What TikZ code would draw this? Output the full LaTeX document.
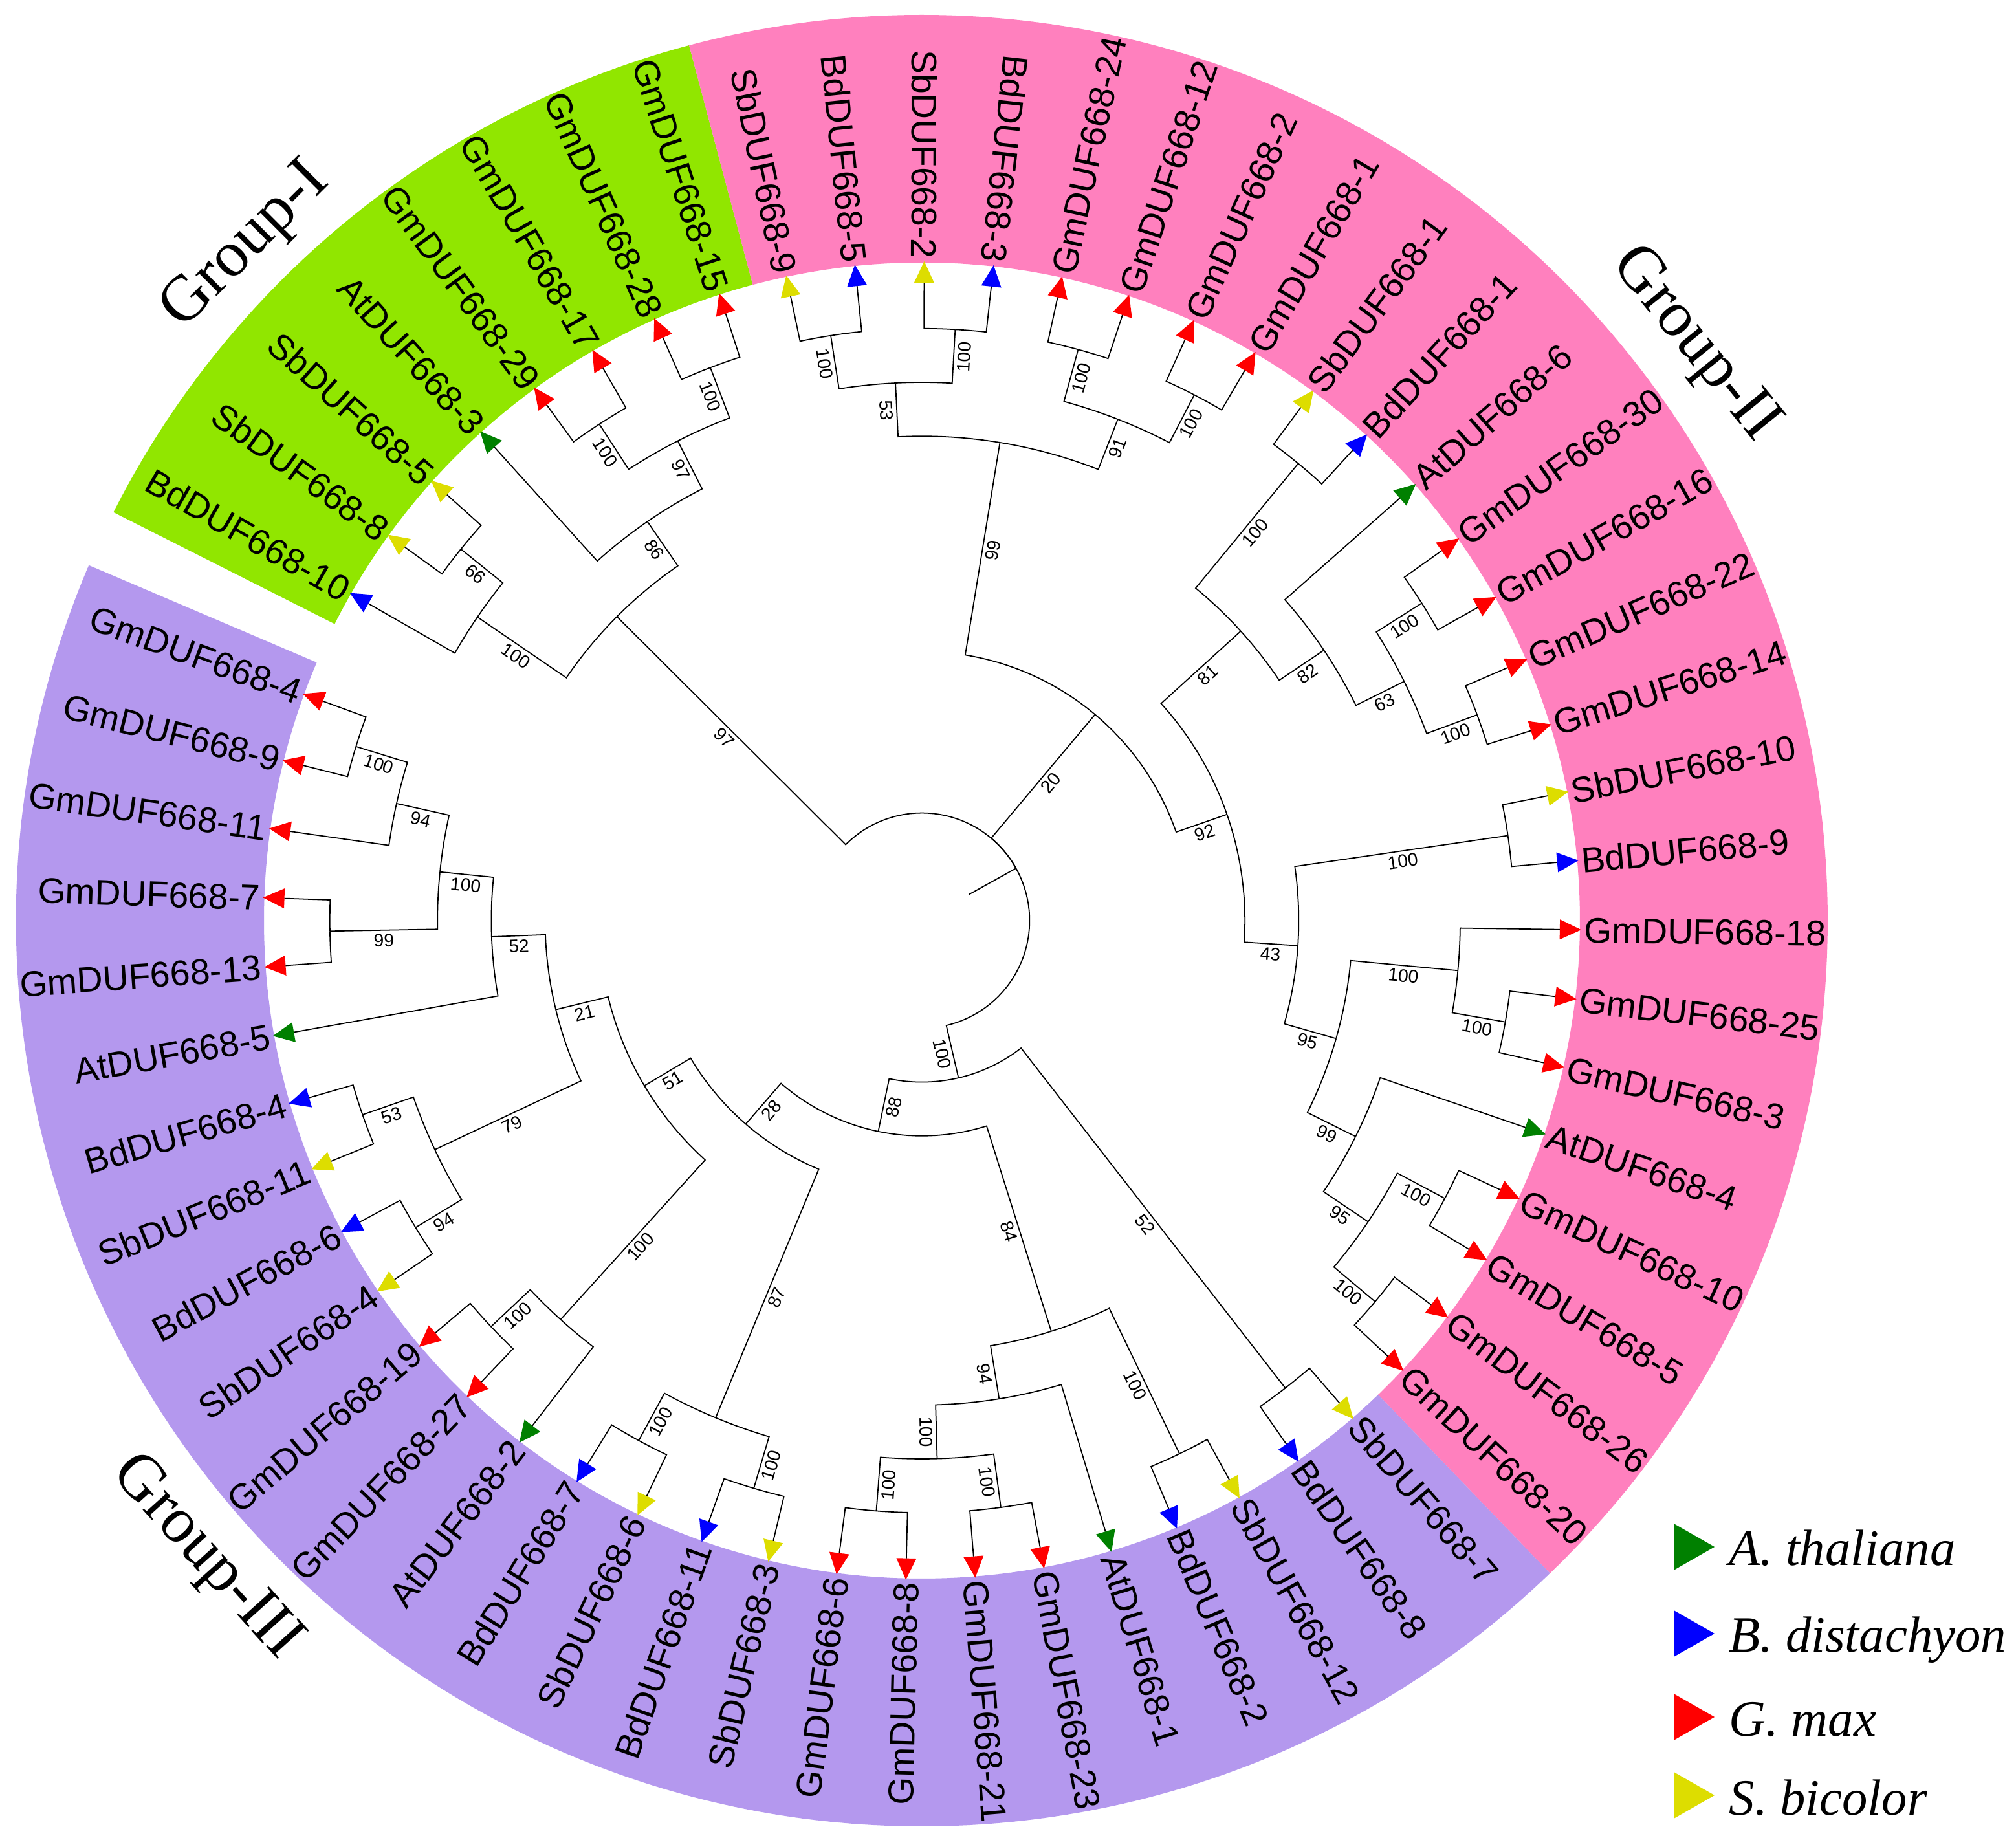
\documentclass[tikz,border=0pt]{standalone}
\usepackage{fontspec}
\setmainfont{Liberation Serif}
\setsansfont{Liberation Sans}
\definecolor{colAt}{RGB}{0,128,0}
\definecolor{colBd}{RGB}{0,0,255}
\definecolor{colGm}{RGB}{255,0,0}
\definecolor{colSb}{RGB}{221,221,0}
\definecolor{bandG}{RGB}{145,230,0}
\definecolor{bandP}{RGB}{255,128,190}
\definecolor{bandV}{RGB}{180,152,238}
\newcommand\lev{0.832}
\newcommand\tbranch[2]{%
  \edef\pA{\csname AN#1\endcsname}%
  \edef\pL{\csname LV#1\endcsname}%
  \edef\cA{\csname AN#2\endcsname}%
  \edef\cL{\csname LV#2\endcsname}%
  \pgfmathsetmacro\pR{\pL*\lev}%
  \draw[treeline] (#1) arc[start angle=\pA, end angle=\cA, radius=\pR] -- (#2);
  \ifcsname BS#2\endcsname
    \pgfmathsetmacro\bR{(\pL+\cL)/2*\lev}%
    \pgfmathsetmacro\bRot{ifthenelse(or(\cA > 90,\cA < -90),\cA+180,\cA)}%
    \node[boot, rotate=\bRot] (b#2) at (\cA:\bR) {\csname BS#2\endcsname};
  \fi}
\newcommand\tclade[5]{%
  \pgfmathsetmacro\tA{(\csname AN#3\endcsname+\csname AN#4\endcsname)/2}%
  \pgfmathsetmacro\tR{#2*\lev}%
  \expandafter\xdef\csname AN#1\endcsname{\tA}%
  \expandafter\xdef\csname LV#1\endcsname{#2}%
  \expandafter\xdef\csname BS#1\endcsname{#5}%
  \coordinate (#1) at (\tA:\tR);
  \tbranch{#1}{#3}\tbranch{#1}{#4}}
\newcommand\tleaf[3]{%
  \pgfmathsetmacro\la{150.2-6.04*#3}%
  \expandafter\xdef\csname AN#1#2\endcsname{\la}%
  \expandafter\xdef\csname LV#1#2\endcsname{11.851}%
  \coordinate (#1#2) at (\la:9.86);
  \fill[col#1, rotate=\la] (9.86,-0.155) -- (10.19,0) -- (9.86,0.155) -- cycle;
  \pgfmathsetmacro\lf{or(\la > 80,\la < -90)}%
  \ifdim\lf pt>0.5pt
    \node[leaflab, anchor=east, rotate=\la+180] (t#1#2) at (\la:10.23) {#1DUF668-#2};
  \else
    \node[leaflab, anchor=west, rotate=\la] (t#1#2) at (\la:10.23) {#1DUF668-#2};
  \fi}
\begin{document}
\begin{tikzpicture}[
  treeline/.style={draw=black, line width=0.5pt},
  boot/.style={font=\sffamily\fontsize{8}{9}\selectfont, anchor=north, inner sep=1.3pt, text height=5.8pt, text depth=0pt},
  leaflab/.style={font=\sffamily\fontsize{15.7}{18.5}\selectfont, inner sep=0pt, text height=11.25pt, text depth=0pt},
  grp/.style={font=\rmfamily\fontsize{28.5}{34}\selectfont, inner sep=0pt},
  leg/.style={font=\rmfamily\itshape\fontsize{22.4}{27}\selectfont, inner sep=0pt, anchor=base west}
]
\fill[white] (-14.25,-14.18) rectangle (16.91,14.23);
\useasboundingbox (-14.25,-14.18) rectangle (16.91,14.23);
% coloured bands
\fill[bandG] (104.9:10.17) arc[start angle=104.9, end angle=153.2, radius=10.17] -- (153.2:14.0) arc[start angle=153.2, end angle=104.9, radius=14.0] -- cycle;
\fill[bandP] (104.9:10.17) arc[start angle=104.9, end angle=-46.1, radius=10.17] -- (-46.1:14.0) arc[start angle=-46.1, end angle=104.9, radius=14.0] -- cycle;
\fill[bandV] (-46.1:10.17) arc[start angle=-46.1, end angle=-203.1, radius=10.17] -- (-203.1:14.0) arc[start angle=-203.1, end angle=-46.1, radius=14.0] -- cycle;
% leaves
\tleaf{Bd}{10}{0}
\tleaf{Sb}{8}{1}
\tleaf{Sb}{5}{2}
\tleaf{At}{3}{3}
\tleaf{Gm}{29}{4}
\tleaf{Gm}{17}{5}
\tleaf{Gm}{28}{6}
\tleaf{Gm}{15}{7}
\tleaf{Sb}{9}{8}
\tleaf{Bd}{5}{9}
\tleaf{Sb}{2}{10}
\tleaf{Bd}{3}{11}
\tleaf{Gm}{24}{12}
\tleaf{Gm}{12}{13}
\tleaf{Gm}{2}{14}
\tleaf{Gm}{1}{15}
\tleaf{Sb}{1}{16}
\tleaf{Bd}{1}{17}
\tleaf{At}{6}{18}
\tleaf{Gm}{30}{19}
\tleaf{Gm}{16}{20}
\tleaf{Gm}{22}{21}
\tleaf{Gm}{14}{22}
\tleaf{Sb}{10}{23}
\tleaf{Bd}{9}{24}
\tleaf{Gm}{18}{25}
\tleaf{Gm}{25}{26}
\tleaf{Gm}{3}{27}
\tleaf{At}{4}{28}
\tleaf{Gm}{10}{29}
\tleaf{Gm}{5}{30}
\tleaf{Gm}{26}{31}
\tleaf{Gm}{20}{32}
\tleaf{Sb}{7}{33}
\tleaf{Bd}{8}{34}
\tleaf{Sb}{12}{35}
\tleaf{Bd}{2}{36}
\tleaf{At}{1}{37}
\tleaf{Gm}{23}{38}
\tleaf{Gm}{21}{39}
\tleaf{Gm}{8}{40}
\tleaf{Gm}{6}{41}
\tleaf{Sb}{3}{42}
\tleaf{Bd}{11}{43}
\tleaf{Sb}{6}{44}
\tleaf{Bd}{7}{45}
\tleaf{At}{2}{46}
\tleaf{Gm}{27}{47}
\tleaf{Gm}{19}{48}
\tleaf{Sb}{4}{49}
\tleaf{Bd}{6}{50}
\tleaf{Sb}{11}{51}
\tleaf{Bd}{4}{52}
\tleaf{At}{5}{53}
\tleaf{Gm}{13}{54}
\tleaf{Gm}{7}{55}
\tleaf{Gm}{11}{56}
\tleaf{Gm}{9}{57}
\tleaf{Gm}{4}{58}
% Group I
\tclade{c1}{11}{Sb8}{Sb5}{66}
\tclade{c2}{10}{Bd10}{c1}{100}
\tclade{c3}{11}{Gm29}{Gm17}{100}
\tclade{c4}{11}{Gm28}{Gm15}{100}
\tclade{c5}{10}{c3}{c4}{97}
\tclade{c6}{9}{At3}{c5}{86}
\tclade{c7}{8}{c2}{c6}{97}
% Group II
\tclade{d1}{11}{Sb9}{Bd5}{100}
\tclade{d2}{11}{Sb2}{Bd3}{100}
\tclade{d3}{10}{d1}{d2}{53}
\tclade{d4}{11}{Gm24}{Gm12}{100}
\tclade{d5}{11}{Gm2}{Gm1}{100}
\tclade{d6}{10}{d4}{d5}{91}
\tclade{d7}{9}{d3}{d6}{99}
\tclade{d8}{11}{Sb1}{Bd1}{100}
\tclade{d9}{11}{Gm30}{Gm16}{100}
\tclade{d10}{11}{Gm22}{Gm14}{100}
\tclade{d11}{10}{d9}{d10}{63}
\tclade{d12}{9}{At6}{d11}{82}
\tclade{d13}{8}{d8}{d12}{81}
\tclade{d14}{11}{Sb10}{Bd9}{100}
\tclade{d15}{11}{Gm25}{Gm3}{100}
\tclade{d16}{10}{Gm18}{d15}{100}
\tclade{d17}{11}{Gm10}{Gm5}{100}
\tclade{d18}{11}{Gm26}{Gm20}{100}
\tclade{d19}{10}{d17}{d18}{95}
\tclade{d20}{9}{At4}{d19}{99}
\tclade{d21}{8}{d16}{d20}{95}
\tclade{d22}{7}{d14}{d21}{43}
\tclade{d23}{6}{d13}{d22}{92}
\tclade{d24}{5}{d7}{d23}{20}
% Group III
\tclade{e1}{11}{Sb7}{Bd8}{52}
\tclade{e2}{11}{Sb12}{Bd2}{100}
\tclade{e3}{11}{Gm23}{Gm21}{100}
\tclade{e4}{11}{Gm8}{Gm6}{100}
\tclade{e5}{10}{e3}{e4}{100}
\tclade{e6}{9}{At1}{e5}{94}
\tclade{e7}{8}{e2}{e6}{84}
\tclade{e8}{11}{Sb3}{Bd11}{100}
\tclade{e9}{11}{Sb6}{Bd7}{100}
\tclade{e10}{10}{e8}{e9}{87}
\tclade{e11}{11}{Gm27}{Gm19}{100}
\tclade{e12}{10}{At2}{e11}{100}
\tclade{e13}{11}{Sb4}{Bd6}{94}
\tclade{e14}{11}{Sb11}{Bd4}{53}
\tclade{e15}{10}{e13}{e14}{79}
\tclade{e16}{11}{Gm13}{Gm7}{99}
\tclade{e17}{11}{Gm9}{Gm4}{100}
\tclade{e18}{10}{Gm11}{e17}{94}
\tclade{e19}{9}{e16}{e18}{100}
\tclade{e20}{8}{At5}{e19}{52}
\tclade{e21}{7}{e15}{e20}{21}
\tclade{e22}{6}{e12}{e21}{51}
\tclade{e23}{5}{e10}{e22}{28}
\tclade{e24}{4}{e7}{e23}{88}
\tclade{e25}{3}{e1}{e24}{100}
% root
\pgfmathsetmacro\tA{(\csname ANc7\endcsname+\csname ANe25\endcsname)/2}
\expandafter\xdef\csname ANroot\endcsname{\tA}
\expandafter\xdef\csname LVroot\endcsname{2}
\pgfmathsetmacro\tR{2*\lev}
\coordinate (root) at (\tA:\tR);
\coordinate (root0) at (\tA:\lev);
\draw[treeline] (root0) -- (root);
\tbranch{root}{c7}\tbranch{root}{d24}\tbranch{root}{e25}
% group labels
\node[grp, rotate=45] (g1) at (-10.44,10.42) {Group-I};
\node[grp, rotate=-51] (g2) at (11.94,8.90) {Group-II};
\node[grp, rotate=-48] (g3) at (-11.07,-9.85) {Group-III};
% legend
\fill[colAt] (11.62,-9.32) -- (12.25,-9.68) -- (11.62,-10.04) -- cycle;
\fill[colBd] (11.62,-10.66) -- (12.25,-11.02) -- (11.62,-11.38) -- cycle;
\fill[colGm] (11.62,-11.95) -- (12.25,-12.31) -- (11.62,-12.67) -- cycle;
\fill[colSb] (11.62,-13.16) -- (12.25,-13.52) -- (11.62,-13.88) -- cycle;
\node[leg] (lA) at (12.47,-9.965) {A. thaliana};
\node[leg] (lB) at (12.47,-11.31) {B. distachyon};
\node[leg] (lG) at (12.47,-12.61) {G. max};
\node[leg] (lS) at (12.47,-13.825) {S. bicolor};
\end{tikzpicture}
\end{document}
